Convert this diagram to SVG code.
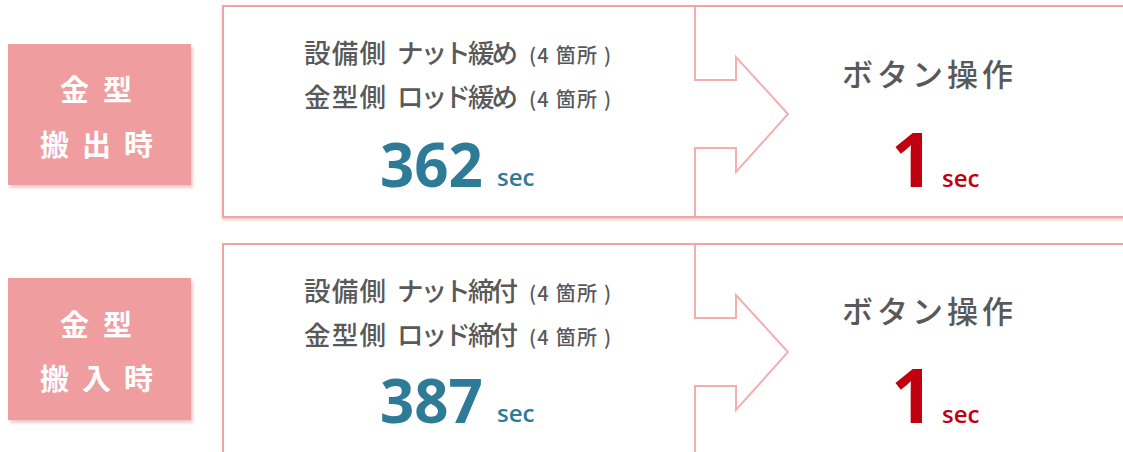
<svg xmlns="http://www.w3.org/2000/svg" width="1123" height="452" viewBox="0 0 1123 452">
  <defs>
    <filter id="sh" x="-10%" y="-10%" width="130%" height="130%">
      <feDropShadow dx="2" dy="3" stdDeviation="1.5" flood-color="#e8b4b6" flood-opacity="0.7"/>
    </filter>
    <filter id="sh2" x="-5%" y="-5%" width="110%" height="120%">
      <feDropShadow dx="0" dy="2" stdDeviation="1.5" flood-color="#f0b8ba" flood-opacity="0.8"/>
    </filter>
  </defs>
  <style>
    .label { fill: #F09DA0; }
    .labtxt { font-family: "Noto Sans CJK JP", sans-serif; font-size: 29px; font-weight: 700; fill: #ffffff; }
    .panel { fill: #ffffff; stroke: #F2A3A6; stroke-width: 2; }
    .arrow { fill: none; stroke: #F4AEB0; stroke-width: 2; }
    .desc { font-family: "Noto Sans CJK JP", sans-serif; font-size: 26.5px; font-weight: 500; fill: #595959; }
    .small { font-family: "Noto Sans CJK JP", sans-serif; font-size: 20px; font-weight: 500; fill: #595959; }
    .op { font-family: "Noto Sans CJK JP", sans-serif; font-size: 31px; font-weight: 500; fill: #595959; letter-spacing: 4px; }
    .big { font-family: "Open Sans", sans-serif; font-weight: 700; fill: #2E7B98; }
    .red { font-family: "Open Sans", sans-serif; font-weight: 700; fill: #C0000F; }
    .sec { font-family: "Open Sans", sans-serif; font-weight: 600; font-size: 24px; }
  </style>

  <g id="row1-label">
    <rect class="label" x="8" y="44" width="183" height="141" filter="url(#sh)"/>
    <text class="labtxt" x="60 103" y="101">金型</text>
    <text class="labtxt" x="40 82 124" y="156">搬出時</text>
  </g>

  <g id="row1-panel">
    <rect class="panel" x="223" y="6" width="910" height="211" filter="url(#sh2)"/>
  </g>

  <g id="row1-before">
    <text class="desc" x="304" y="63" textLength="82" lengthAdjust="spacing">設備側</text>
    <text class="desc" x="397" y="63" textLength="121" lengthAdjust="spacing">ナット緩め</text>
    <text class="small" x="529" y="63" textLength="82" lengthAdjust="spacing">(4 箇所 )</text>
    <text class="desc" x="304" y="107" textLength="82" lengthAdjust="spacing">金型側</text>
    <text class="desc" x="397" y="107" textLength="121" lengthAdjust="spacing">ロッド緩め</text>
    <text class="small" x="529" y="107" textLength="82" lengthAdjust="spacing">(4 箇所 )</text>
    <text class="big" x="380" y="187" font-size="60">362</text>
    <text class="sec" x="497" y="186" fill="#2E7B98">sec</text>
  </g>

  <g id="row1-after">
    <text class="op" x="842" y="86">ボタン操作</text>
    <text class="red" x="891" y="187" font-size="75">1</text>
    <text class="sec" x="942" y="187" fill="#C0000F">sec</text>
  </g>

  <g id="row2-label">
    <rect class="label" x="8" y="278" width="183" height="142" filter="url(#sh)"/>
    <text class="labtxt" x="60 103" y="336">金型</text>
    <text class="labtxt" x="40 82 124" y="390">搬入時</text>
  </g>

  <g id="row2-panel">
    <rect class="panel" x="223" y="244" width="910" height="230"/>
  </g>

  <g id="row2-before">
    <text class="desc" x="304" y="301" textLength="82" lengthAdjust="spacing">設備側</text>
    <text class="desc" x="397" y="301" textLength="121" lengthAdjust="spacing">ナット締付</text>
    <text class="small" x="529" y="301" textLength="82" lengthAdjust="spacing">(4 箇所 )</text>
    <text class="desc" x="304" y="345" textLength="82" lengthAdjust="spacing">金型側</text>
    <text class="desc" x="397" y="345" textLength="121" lengthAdjust="spacing">ロッド締付</text>
    <text class="small" x="529" y="345" textLength="82" lengthAdjust="spacing">(4 箇所 )</text>
    <text class="big" x="380" y="423" font-size="60">387</text>
    <text class="sec" x="497" y="422" fill="#2E7B98">sec</text>
  </g>

  <g id="row2-after">
    <text class="op" x="842" y="323">ボタン操作</text>
    <text class="red" x="891" y="423" font-size="75">1</text>
    <text class="sec" x="942" y="423" fill="#C0000F">sec</text>
  </g>

  <g id="connectors">
    <path class="arrow" d="M695 7 V80 H736 V57 L788 114 L736 172 V148 H695 V216"/>
    <path class="arrow" d="M695 245 V318 H736 V295 L788 352 L736 410 V386 H695 V452"/>
  </g>
</svg>
